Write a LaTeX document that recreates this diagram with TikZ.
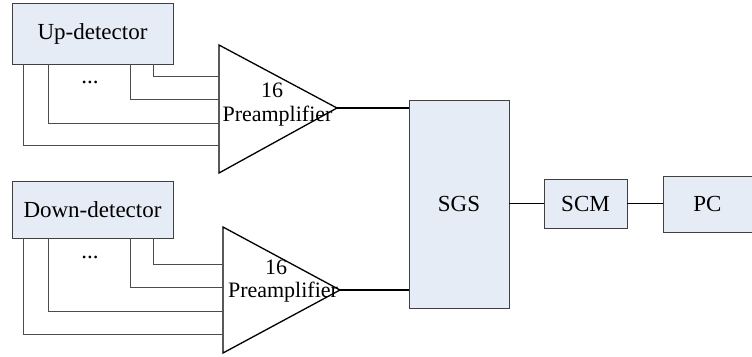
\documentclass[tikz,border=0pt]{standalone}
\usepackage{fontspec}
\setmainfont{Liberation Serif}
\begin{document}
\begin{tikzpicture}[x=1pt,y=-1pt,
  blk/.style={draw=black!75,fill=boxfill,line width=0.9pt,inner sep=0pt},
  wire/.style={draw=black!70,line width=0.9pt},
  thick wire/.style={draw=black,line width=1.5pt},
  amp/.style={draw=black,line width=1.3pt},
  lbl/.style={font=\fontsize{23}{25}\selectfont},
  albl/.style={font=\fontsize{22}{24}\selectfont,inner sep=0pt}]
\definecolor{boxfill}{RGB}{230,236,246}
\useasboundingbox (0,0) rectangle (752,356);
% boxes
\node[blk,minimum width=161pt,minimum height=61pt,lbl] (up) at (92.5,33.5) {Up-detector};
\node[blk,minimum width=161pt,minimum height=57pt,lbl] (down) at (92.5,209.5) {Down-detector};
\node[blk,minimum width=100pt,minimum height=208pt,lbl] (sgs) at (459,204) {SGS};
\node[blk,minimum width=83pt,minimum height=49pt,lbl] (scm) at (585.5,203.5) {SCM};
\node[blk,minimum width=100pt,minimum height=56pt,lbl,anchor=west] (pc) at (663,204) {\hspace*{-12pt}PC};
% amplifiers
\coordinate (ua) at (337,108);
\coordinate (da) at (340,290);
\draw[amp] (219,45) -- (ua) -- (219,173) -- cycle;
\draw[amp] (223,227) -- (da) -- (223,353) -- cycle;
\node[albl] (u16) at (272,90) {16};
\node[albl] (upre) at (277.5,116) {Preamplifier};
\node[albl] (d16) at (276,267) {16};
\node[albl] (dpre) at (283,292) {Preamplifier};
% wires up
\coordinate (u1) at (219,76);
\coordinate (u2) at (219,99);
\coordinate (u3) at (219,123);
\coordinate (u4) at (219,145);
\draw[wire] (up.south -| 153,0) |- (u1);
\draw[wire] (up.south -| 130,0) |- (u2);
\draw[wire] (up.south -| 48,0) |- (u3);
\draw[wire] (up.south -| 23,0) |- (u4);
\node[lbl] (udots) at (90,82) {...};
% wires down
\coordinate (d1) at (223,264);
\coordinate (d2) at (223,287);
\coordinate (d3) at (223,311);
\coordinate (d4) at (223,334);
\draw[wire] (down.south -| 153,0) |- (d1);
\draw[wire] (down.south -| 130,0) |- (d2);
\draw[wire] (down.south -| 48,0) |- (d3);
\draw[wire] (down.south -| 23,0) |- (d4);
\node[lbl] (ddots) at (90,257) {...};
% connections
\draw[thick wire] (ua) -- (ua -| sgs.west);
\draw[thick wire] (da) -- (da -| sgs.west);
\draw[thick wire] (sgs.east |- scm.west) -- (scm.west);
\draw[thick wire] (scm.east) -- (scm.east -| pc.west);
\end{tikzpicture}
\end{document}
